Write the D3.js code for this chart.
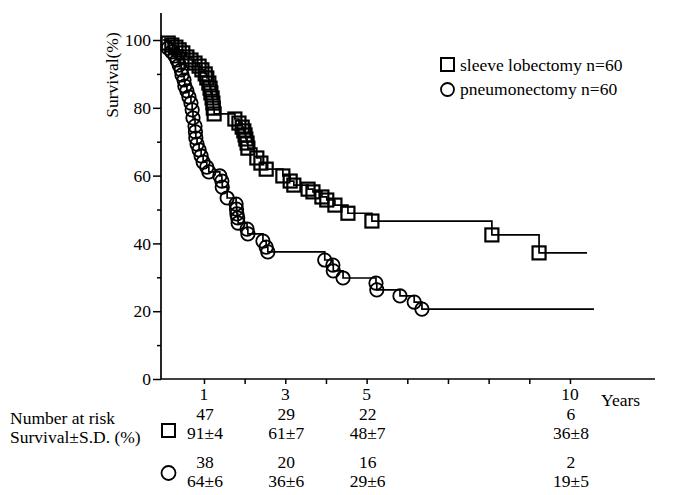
<!DOCTYPE html>
<html>
<head>
<meta charset="utf-8">
<script src="https://cdn.jsdelivr.net/npm/d3@7"></script>
<style>
  html, body { margin: 0; padding: 0; background: #fff; }
  svg text { font-family: "Liberation Serif", "Times New Roman", serif; fill: #000; }
</style>
</head>
<body>
<svg id="chart" width="677" height="495"></svg>
<script>
// ---------------- data ----------------
const seriesNames = ["sleeve lobectomy n=60", "pneumonectomy n=60"];

// sleeve lobectomy (squares): drop times (years) and survival (%) after each drop
const sleeveTimes = [0.12,0.21,0.31,0.39,0.48,0.58,0.68,0.78,0.88,0.95,1.03,1.07,1.12,1.15,1.17,1.20,1.22,1.23,1.25,
  1.76,1.86,1.94,1.98,2.01,2.03,2.06,2.08,2.30,2.40,2.53,2.94,3.12,3.21,3.56,3.68,3.90,4.02,4.22,4.54,5.13,8.08,9.24];
const sleeveSurv = [99.1,98.5,97.9,97.1,96.2,95.0,94.1,93.2,92.3,91.2,90.0,88.8,87.3,85.8,84.4,82.9,81.4,79.9,78.2,
  76.7,75.5,74.3,73.2,72.0,70.8,69.6,68.1,65.2,63.7,61.9,59.9,58.4,57.2,56.0,55.2,53.7,52.8,51.3,48.9,46.6,42.5,37.2];
const sleeveEnd = 10.42;

// pneumonectomy (circles)
const pneumoTimes = [0.12,0.21,0.29,0.34,0.39,0.44,0.46,0.51,0.53,0.58,0.63,0.68,0.71,0.73,0.78,0.79,0.80,0.83,0.88,0.93,0.98,
  1.07,1.12,1.39,1.44,1.45,1.57,1.79,1.80,1.81,1.83,1.84,2.06,2.08,2.45,2.53,2.57,3.97,4.17,4.18,4.42,5.23,5.25,5.82,6.17,6.36];
const pneumoSurv = [97.6,96.5,95.3,94.1,92.6,91.2,89.7,88.2,86.4,85.0,83.2,81.4,79.4,77.0,74.6,72.9,71.1,69.3,67.6,65.8,64.0,
  62.5,61.1,59.9,58.4,56.6,53.4,51.6,50.1,48.7,47.5,46.0,44.2,42.8,40.7,38.9,37.5,35.1,33.6,31.9,29.8,28.3,26.3,24.5,22.7,20.6];
const pneumoEnd = 10.59;

const yMajorTicks = [0,20,40,60,80,100];
const yMinorTicks = [10,30,50,70,90];
const xTicks = [1,2,3,4,5,6,7,8,9,10];
const xLabelTicks = [1,3,5,10];
const xLabels = ["1","3","5","10"];

const riskYears = [1,3,5,10];
const sleeveAtRisk = ["47","29","22","6"];
const sleeveSurvSD = ["91±4","61±7","48±7","36±8"];
const pneumoAtRisk = ["38","20","16","2"];
const pneumoSurvSD = ["64±6","36±6","29±6","19±5"];

// ---------------- chart ----------------
const svg = d3.select("#chart");
const FS = 17.5;

const x = d3.scaleLinear().domain([0, 12]).range([163.3, 651.3]);
const y = d3.scaleLinear().domain([0, 108]).range([379, 12.9]);
const axisX0 = 161;

// axis lines
svg.append("line").attr("x1", axisX0).attr("x2", axisX0).attr("y1", y(0)).attr("y2", y(108))
  .attr("stroke", "#000").attr("stroke-width", 1.7);
svg.append("line").attr("x1", axisX0).attr("x2", 655).attr("y1", y(0)).attr("y2", y(0))
  .attr("stroke", "#000").attr("stroke-width", 1.7);

// y axis ticks
const yAx = svg.append("g").attr("transform", `translate(${axisX0},0)`)
  .call(d3.axisLeft(y).tickValues(yMajorTicks).tickSize(8).tickPadding(2));
yAx.select(".domain").remove();
yAx.selectAll("line").attr("stroke-width", 1.5);
yAx.selectAll("text").style("font-size", FS + "px").style("font-family", "Liberation Serif");
const yMin = svg.append("g").attr("transform", `translate(${axisX0},0)`)
  .call(d3.axisLeft(y).tickValues(yMinorTicks).tickSize(4).tickFormat(""));
yMin.select(".domain").remove();
yMin.selectAll("line").attr("stroke-width", 1.5);

// x axis ticks
const xAx = svg.append("g").attr("transform", `translate(0,${y(0)})`)
  .call(d3.axisBottom(x).tickValues(xTicks).tickSize(5).tickFormat(""));
xAx.select(".domain").remove();
xAx.selectAll("line").attr("stroke-width", 1.5);

// x labels
svg.selectAll(".xlab").data(xLabelTicks).join("text")
  .attr("class", "xlab")
  .attr("x", (d) => x(d)).attr("y", 400)
  .attr("text-anchor", "middle").style("font-size", FS + "px")
  .text((d, i) => xLabels[i]);
svg.append("text").attr("x", 601).attr("y", 406).style("font-size", FS + "px").text("Years");

// y title
svg.append("text")
  .attr("transform", "translate(118,75) rotate(-90)")
  .attr("text-anchor", "middle").style("font-size", FS + "px")
  .text("Survival(%)");

// curves
function stepData(times, surv, tEnd) {
  const pts = [[0, 100]];
  times.forEach((t, i) => pts.push([t, surv[i]]));
  pts.push([tEnd, surv[surv.length - 1]]);
  return pts;
}
const line = d3.line().x((d) => x(d[0])).y((d) => y(d[1])).curve(d3.curveStepAfter);

svg.append("path").datum(stepData(sleeveTimes, sleeveSurv, sleeveEnd))
  .attr("d", line).attr("fill", "none").attr("stroke", "#000").attr("stroke-width", 1.7);
svg.append("path").datum(stepData(pneumoTimes, pneumoSurv, pneumoEnd))
  .attr("d", line).attr("fill", "none").attr("stroke", "#000").attr("stroke-width", 1.7);

const SQ = 13;
svg.selectAll(".sq").data(sleeveTimes).join("rect")
  .attr("class", "sq")
  .attr("x", (d) => x(d) - SQ / 2)
  .attr("y", (d, i) => y(sleeveSurv[i]) - SQ / 2)
  .attr("width", SQ).attr("height", SQ)
  .attr("fill", "none").attr("stroke", "#000").attr("stroke-width", 2.2);

const CR = 6.7;
svg.selectAll(".ci").data(pneumoTimes).join("circle")
  .attr("class", "ci")
  .attr("cx", (d) => x(d))
  .attr("cy", (d, i) => y(pneumoSurv[i]))
  .attr("r", CR)
  .attr("fill", "none").attr("stroke", "#000").attr("stroke-width", 1.8);

// legend
svg.append("rect").attr("x", 441).attr("y", 58).attr("width", 13).attr("height", 13)
  .attr("fill", "none").attr("stroke", "#000").attr("stroke-width", 2);
svg.append("text").attr("x", 460).attr("y", 71).style("font-size", FS + "px").text(seriesNames[0]);
svg.append("circle").attr("cx", 447.5).attr("cy", 89.5).attr("r", 6.5)
  .attr("fill", "none").attr("stroke", "#000").attr("stroke-width", 1.8);
svg.append("text").attr("x", 460).attr("y", 95).style("font-size", FS + "px").text(seriesNames[1]);

// risk table
svg.append("text").attr("x", 10).attr("y", 424).style("font-size", FS + "px").text("Number at risk");
svg.append("text").attr("x", 10).attr("y", 443).style("font-size", FS + "px").text("Survival±S.D. (%)");

svg.append("rect").attr("x", 162).attr("y", 424).attr("width", 13).attr("height", 13)
  .attr("fill", "none").attr("stroke", "#000").attr("stroke-width", 2);
svg.append("circle").attr("cx", 168.5).attr("cy", 473).attr("r", 7)
  .attr("fill", "none").attr("stroke", "#000").attr("stroke-width", 1.8);

function riskRow(vals, yy) {
  svg.append("g").selectAll("text").data(riskYears).join("text")
    .attr("x", (d) => x(d) + 1).attr("y", yy)
    .attr("text-anchor", "middle").style("font-size", FS + "px")
    .text((d, i) => vals[i]);
}
riskRow(sleeveAtRisk, 420);
riskRow(sleeveSurvSD, 439);
riskRow(pneumoAtRisk, 468);
riskRow(pneumoSurvSD, 487);
</script>
</body>
</html>
